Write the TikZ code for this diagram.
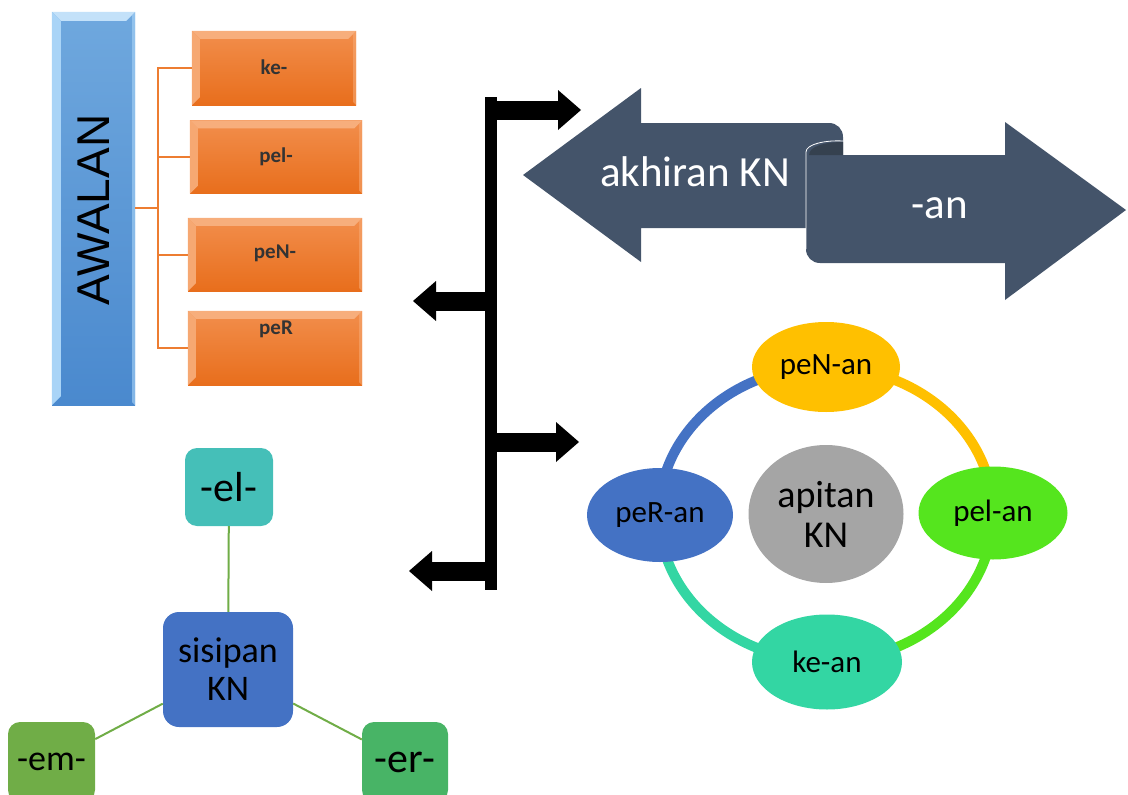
\documentclass[tikz,border=0pt]{standalone}
\usepackage{fontspec}
\setmainfont{Carlito}
\newfontfamily\arialf{Liberation Sans}
\usetikzlibrary{arrows.meta,shapes.geometric,calc}
\definecolor{orA}{HTML}{F28E4C}
\definecolor{orB}{HTML}{E86E1C}
\definecolor{orL}{HTML}{F7AE7C}
\definecolor{orline}{HTML}{ED7D31}
\definecolor{blA}{HTML}{6FA8DE}
\definecolor{blB}{HTML}{4A89CE}
\definecolor{blL}{HTML}{A9D4F7}
\definecolor{slate}{HTML}{44546A}
\definecolor{slateD}{HTML}{35414F}
\definecolor{cYel}{HTML}{FFC000}
\definecolor{cGrn}{HTML}{55E51E}
\definecolor{cTeal}{HTML}{33D6A3}
\definecolor{cBlue}{HTML}{4472C4}
\definecolor{cGrey}{HTML}{A5A5A5}
\definecolor{cEl}{HTML}{45BFB8}
\definecolor{cEm}{HTML}{70AD47}
\definecolor{cEr}{HTML}{48B466}
\newcommand\fs[1]{\fontsize{#1}{#1}\selectfont}
\newcommand\bevelbox[4]{%
  \fill[#2] (#1.north west) -- (#1.north east) -- ($(#1.north east)+(-#4,#4)$) -- ($(#1.north west)+(#4,#4)$) -- cycle;
  \fill[#3] (#1.north west) -- ($(#1.north west)+(#4,#4)$) -- ($(#1.south west)+(#4,-#4)$) -- (#1.south west) -- cycle;
  \fill[#3,opacity=0.6] (#1.north east) -- ($(#1.north east)+(-3,3)$) -- ($(#1.south east)+(-3,-3)$) -- (#1.south east) -- cycle;}
\tikzset{
  orbox/.style={rectangle, inner sep=0pt, top color=orA, bottom color=orB, draw=none},
  ortext/.style={font=\bfseries\fs{21}, text=black!80},
  orconn/.style={draw=orline, line width=2pt},
  blk/.style={line width=19pt, -{Triangle[length=23pt,width=40pt,line width=0pt]}},
  ringarc/.style={line width=10pt},
  ell/.style={ellipse, inner sep=0pt, font=\fs{31}, text=black},
  sqbox/.style={rectangle, rounded corners=12pt, inner sep=0pt, text=black},
  grnline/.style={draw=cEm, line width=2pt},
}
\begin{document}
\begin{tikzpicture}[x=1pt,y=-1pt]
\useasboundingbox (0,0) rectangle (1128,795);
\clip (0,0) rectangle (1128,795);

% ---------- AWALAN ----------
\node[rectangle, inner sep=0pt, minimum width=83pt, minimum height=393pt, top color=blA, bottom color=blB] (bar) at (93.5,208.5) {};
\bevelbox{bar}{blL!70!white}{blL}{9}
\node[rotate=90, font=\arialf\fs{46}, text=black] (awl) at (93.5,210) {AWALAN};

\node[orbox, minimum width=164pt, minimum height=74pt] (ke) at (274,68) {};
\node[orbox, minimum width=172pt, minimum height=73pt] (pel) at (276,157) {};
\node[orbox, minimum width=174pt, minimum height=73pt] (peN) at (275,254.5) {};
\node[orbox, minimum width=174pt, minimum height=74pt] (peR) at (275,348) {};
\bevelbox{ke}{orL}{orL!80!orA}{8}
\bevelbox{pel}{orL}{orL!80!orA}{8}
\bevelbox{peN}{orL}{orL!80!orA}{8}
\bevelbox{peR}{orL}{orL!80!orA}{8}
\node[ortext] (tke) at (274,67) {ke-};
\node[ortext] (tpel) at (276,157) {pel-};
\node[ortext] (tpeN) at (275,253) {peN-};
\node[ortext] (tpeR) at (276,329) {peR};

\coordinate (oj) at (158,208);
\draw[orconn] (bar.east |- oj) -- (oj);
\draw[orconn] (ke.west) -| (oj);
\draw[orconn] (pel.west) -| (oj);
\draw[orconn] (peN.west) -| (oj);
\draw[orconn] (peR.west) -| (oj);

% ---------- black bracket arrows ----------
\coordinate (vt) at (491,97);
\coordinate (vb) at (491,590);
\draw[line width=12pt] (vt) -- (vb);
\coordinate (a1s) at (485,110); \coordinate (a1e) at (581,110);
\coordinate (a2s) at (491,301); \coordinate (a2e) at (413,301);
\coordinate (a3s) at (491,442); \coordinate (a3e) at (579,442);
\coordinate (a4s) at (491,571); \coordinate (a4e) at (409,571);
\draw[blk] (a1s) -- (a1e);
\draw[blk] (a2s) -- (a2e);
\draw[blk] (a3s) -- (a3e);
\draw[blk] (a4s) -- (a4e);

% ---------- akhiran KN ----------
\fill[slate] (523,175) -- (641,88) -- (641,123) -- (829,123) .. controls (837,123) and (843,129) .. (843,137) -- (843,228) -- (641,228) -- (641,262) -- cycle;
\fill[slate] (806,155) -- (1005,155) -- (1005,122) -- (1126,210) -- (1005,300) -- (1005,263) -- (820,263) .. controls (812,263) and (806,257) .. (806,249) -- cycle;
\fill[slateD] (809,155) .. controls (809,146) and (826,142) .. (843,142) -- (843,155) -- cycle;
\draw[white, line width=0.8pt] (806,249) -- (806,152) .. controls (806,144) and (826,140) .. (843,141);
\node[font=\fs{43}, text=white] (akh) at (695,172) {akhiran KN};
\node[font=\fs{43}, text=white] (an) at (940,208) {-an};

% ---------- apitan KN ----------
\coordinate (rc) at (826,514);
\draw[ringarc, cYel] ($(rc)+(0,-147)$) arc[start angle=-90, end angle=0, x radius=167, y radius=147];
\draw[ringarc, cGrn] ($(rc)+(167,0)$) arc[start angle=0, end angle=90, x radius=167, y radius=147];
\draw[ringarc, cTeal] ($(rc)+(0,147)$) arc[start angle=90, end angle=180, x radius=167, y radius=147];
\draw[ringarc, cBlue] ($(rc)+(-167,0)$) arc[start angle=180, end angle=270, x radius=167, y radius=147];
\node[ell, fill=cYel, minimum width=148pt, minimum height=90pt] (epeN) at (826,367) {peN-an};
\node[ell, fill=cGrn, minimum width=149pt, minimum height=93pt] (epel) at (993,513) {pel-an};
\node[ell, fill=cBlue, minimum width=146pt, minimum height=94pt] (epeR) at (660,515) {peR-an};
\node[ell, fill=cTeal, minimum width=150pt, minimum height=95pt] (eke) at (827,662) {ke-an};
\node[ell, fill=cGrey, minimum width=155pt, minimum height=138pt, font=\fs{38}, align=center] (apit) at (826,514) {apitan\\[2pt]KN};

% ---------- sisipan KN ----------
\node[sqbox, fill=cEl, minimum width=88pt, minimum height=78pt, font=\fs{42}] (el) at (229,487) {-el-};
\node[sqbox, fill=cBlue, minimum width=130pt, minimum height=115pt, rounded corners=16pt, font=\fs{36}, align=center] (sis) at (228,669.5) {sisipan\\[2pt]KN};
\node[sqbox, fill=cEm, minimum width=87pt, minimum height=80pt, font=\fs{36}] (em) at (51.5,762) {-em-};
\node[sqbox, fill=cEr, minimum width=86pt, minimum height=80pt, font=\fs{42}] (er) at (405,762) {-er-};
\draw[grnline] (el) -- (sis);
\draw[grnline] (sis) -- (em);
\draw[grnline] (sis) -- (er);
\end{tikzpicture}
\end{document}
